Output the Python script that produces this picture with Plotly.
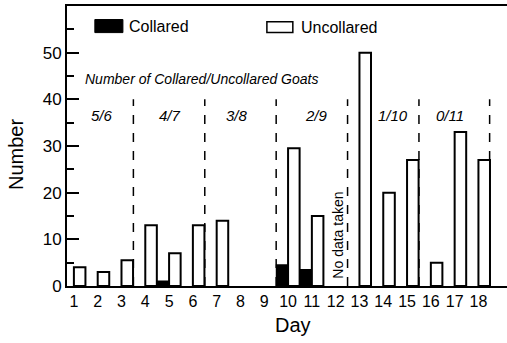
import plotly.graph_objects as go

days = list(range(1, 19))
collared = [None, None, None, None, 1, None, None, None, None, 4.5, 3.5, None, None, None, None, None, None, None]
uncollared = [4, 3, 5.5, 13, 7, 13, 14, None, None, 29.5, 15, None, 50, 20, 27, 5, 33, 27]
group_labels = ["5/6", "4/7", "3/8", "2/9", "1/10", "0/11"]
group_label_x = [2.18, 5.03, 7.85, 11.2, 14.4, 16.8]
divider_x = [3.5, 6.5, 9.5, 12.5, 15.5, 18.47]
y_ticks = [0, 10, 20, 30, 40, 50]
y_minor = [5, 15, 25, 35, 45, 55]

FONT = "Liberation Sans, Arial, sans-serif"

fig = go.Figure()
fig.add_trace(go.Bar(x=days, y=collared, name="Collared",
                     marker=dict(color="black", line=dict(color="black", width=1.5)),
                     showlegend=False))
fig.add_trace(go.Bar(x=days, y=uncollared, name="Uncollared",
                     marker=dict(color="white", line=dict(color="black", width=2)),
                     showlegend=False))

shapes = []
for xv in divider_x:
    shapes.append(dict(type="line", xref="x", yref="y", x0=xv, x1=xv, y0=0, y1=40,
                       line=dict(color="black", width=1.5, dash="dash"), layer="below"))
# custom legend boxes
shapes.append(dict(type="rect", xref="x", yref="y", x0=1.88, x1=3.06, y0=54.3, y1=57.1,
                   fillcolor="black", line=dict(color="black", width=1)))
shapes.append(dict(type="rect", xref="x", yref="y", x0=9.11, x1=10.2, y0=54.3, y1=56.6,
                   fillcolor="white", line=dict(color="black", width=1.5)))

annotations = []
annotations.append(dict(x=3.25, y=55.7, xref="x", yref="y", text="Collared", showarrow=False,
                        xanchor="left", font=dict(size=16, family=FONT, color="black")))
annotations.append(dict(x=10.45, y=55.5, xref="x", yref="y", text="Uncollared", showarrow=False,
                        xanchor="left", font=dict(size=16, family=FONT, color="black")))
annotations.append(dict(x=1.38, y=44.3, xref="x", yref="y",
                        text="<i>Number of Collared/Uncollared Goats</i>", showarrow=False,
                        xanchor="left", font=dict(size=14, family=FONT, color="black")))
for lx, lt in zip(group_label_x, group_labels):
    annotations.append(dict(x=lx, y=36.6, xref="x", yref="y", text="<i>" + lt + "</i>",
                            showarrow=False, font=dict(size=15, family=FONT, color="black")))
annotations.append(dict(x=12.1, y=10.8, xref="x", yref="y", text="No data taken",
                        showarrow=False, textangle=-90,
                        font=dict(size=14, family=FONT, color="black")))
annotations.append(dict(x=16, y=155, text="Number", showarrow=False,
                        textangle=-90, xanchor="center", yanchor="middle",
                        font=dict(size=20, family=FONT, color="black")))
annotations.append(dict(x=293, y=325, text="Day", showarrow=False,
                        xanchor="center", yanchor="middle",
                        font=dict(size=20, family=FONT, color="black")))

# convert pixel-positioned titles to paper coords
W, H = 507, 343
L, R, T, B = 67, 0, 6, 57
pw, ph = W - L - R, H - T - B
for a in annotations[-2:]:
    px, py = a["x"], a["y"]
    a["x"] = (px - L) / pw
    a["y"] = 1 - (py - T) / ph
    a["xref"] = "paper"
    a["yref"] = "paper"

fig.update_layout(
    width=W, height=H,
    margin=dict(l=L, r=R, t=T, b=B, pad=0),
    paper_bgcolor="white", plot_bgcolor="white",
    barmode="group", bargap=0.03, bargroupgap=0,
    font=dict(family=FONT, color="black"),
    shapes=shapes, annotations=annotations,
    xaxis=dict(range=[0.71, 19.2], tickvals=days, ticktext=[str(d) for d in days],
               showline=True, linecolor="black", linewidth=2, mirror=True,
               ticks="", showgrid=False, zeroline=False,
               tickfont=dict(size=16, family=FONT, color="black")),
    yaxis=dict(range=[0, 60], tickvals=y_ticks, ticktext=[str(v) for v in y_ticks],
               showline=True, linecolor="black", linewidth=2,
               ticks="inside", ticklen=12, tickwidth=1.5, tickcolor="black",
               minor=dict(tickvals=y_minor, ticks="inside", ticklen=7, tickwidth=1.5,
                          tickcolor="black", showgrid=False),
               showgrid=False, zeroline=False,
               tickfont=dict(size=17, family=FONT, color="black")),
)

fig.write_html("out.html", config={"displayModeBar": False},
               post_script="document.body.style.margin='0';document.body.style.overflow='hidden';")
